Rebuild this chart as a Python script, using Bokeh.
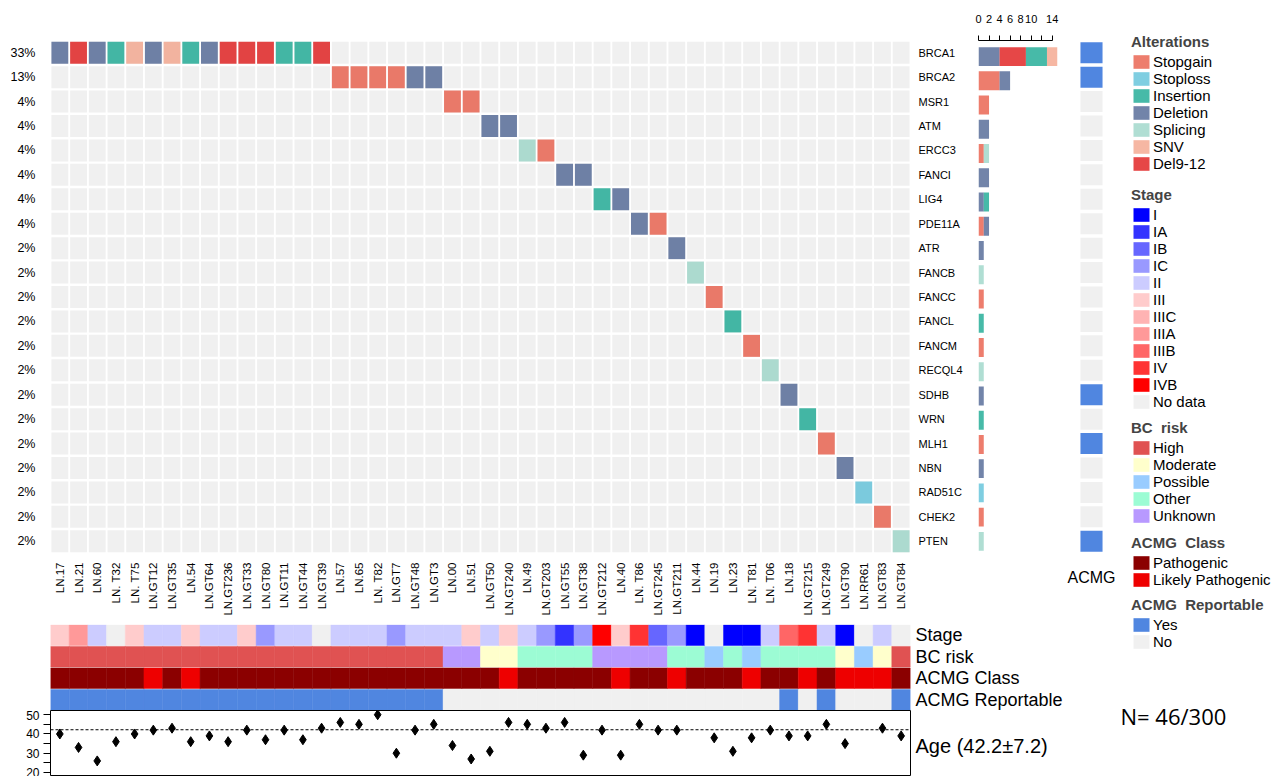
import math
from bokeh.plotting import figure
from bokeh.layouts import row, column
from bokeh.models import (FixedTicker, LinearAxis, Range1d, Legend, LegendItem,
                          Span, Label)
from bokeh.embed import file_html
from bokeh.resources import INLINE

FONT = "Liberation Sans"

# ---------------- data ----------------
samples = ["LN.17", "LN.21", "LN.60", "LN. T32", "LN. T75", "LN.GT12", "LN.GT35", "LN.54",
           "LN.GT64", "LN.GT236", "LN.GT33", "LN.GT80", "LN.GT11", "LN.GT44", "LN.GT39",
           "LN.57", "LN.65", "LN. T82", "LN.GT7", "LN.GT48", "LN.GT3", "LN.00", "LN.51",
           "LN.GT50", "LN.GT240", "LN.49", "LN.GT203", "LN.GT55", "LN.GT38", "LN.GT212",
           "LN.40", "LN. T86", "LN.GT245", "LN.GT211", "LN.44", "LN.19", "LN.23", "LN. T81",
           "LN. T06", "LN.18", "LN.GT215", "LN.GT249", "LN.GT90", "LN.RR61", "LN.GT83", "LN.GT84"]

genes = ["BRCA1", "BRCA2", "MSR1", "ATM", "ERCC3", "FANCI", "LIG4", "PDE11A", "ATR", "FANCB",
         "FANCC", "FANCL", "FANCM", "RECQL4", "SDHB", "WRN", "MLH1", "NBN", "RAD51C", "CHEK2", "PTEN"]

sample_gene = ["BRCA1", "BRCA1", "BRCA1", "BRCA1", "BRCA1", "BRCA1", "BRCA1", "BRCA1", "BRCA1",
               "BRCA1", "BRCA1", "BRCA1", "BRCA1", "BRCA1", "BRCA1",
               "BRCA2", "BRCA2", "BRCA2", "BRCA2", "BRCA2", "BRCA2",
               "MSR1", "MSR1", "ATM", "ATM", "ERCC3", "ERCC3", "FANCI", "FANCI", "LIG4", "LIG4",
               "PDE11A", "PDE11A", "ATR", "FANCB", "FANCC", "FANCL", "FANCM", "RECQL4", "SDHB",
               "WRN", "MLH1", "NBN", "RAD51C", "CHEK2", "PTEN"]

sample_alt = ["Deletion", "Del9-12", "Deletion", "Insertion", "SNV", "Deletion", "SNV", "Insertion",
              "Deletion", "Del9-12", "Del9-12", "Del9-12", "Insertion", "Insertion", "Del9-12",
              "Stopgain", "Stopgain", "Stopgain", "Stopgain", "Deletion", "Deletion",
              "Stopgain", "Stopgain", "Deletion", "Deletion", "Splicing", "Stopgain", "Deletion",
              "Deletion", "Insertion", "Deletion", "Deletion", "Stopgain", "Deletion", "Splicing",
              "Stopgain", "Insertion", "Stopgain", "Splicing", "Deletion", "Insertion", "Stopgain",
              "Deletion", "Stoploss", "Stopgain", "Splicing"]

stage = ["III", "IIIA", "II", "No data", "III", "II", "II", "III", "II", "II",
         "III", "IC", "II", "II", "No data", "II", "II", "II", "IC", "II",
         "II", "II", "III", "II", "III", "II", "IC", "IA", "IC", "IVB",
         "III", "IV", "IB", "IC", "I", "No data", "I", "I", "II", "IIIB",
         "IV", "II", "I", "No data", "II", "No data"]

bc_risk = ["High", "High", "High", "High", "High", "High", "High", "High", "High", "High",
           "High", "High", "High", "High", "High", "High", "High", "High", "High", "High",
           "High", "Unknown", "Unknown", "Moderate", "Moderate", "Other", "Other", "Other", "Other",
           "Unknown", "Unknown", "Unknown", "Unknown", "Other", "Other", "Possible", "Other",
           "Possible", "Other", "Other", "Other", "Other", "Moderate", "Possible", "Moderate", "High"]

acmg_class = ["Pathogenic", "Pathogenic", "Pathogenic", "Pathogenic", "Pathogenic",
              "Likely Pathogenic", "Pathogenic", "Likely Pathogenic", "Pathogenic", "Pathogenic",
              "Pathogenic", "Pathogenic", "Pathogenic", "Pathogenic", "Pathogenic",
              "Pathogenic", "Pathogenic", "Pathogenic", "Pathogenic", "Pathogenic",
              "Pathogenic", "Pathogenic", "Pathogenic", "Pathogenic", "Likely Pathogenic",
              "Pathogenic", "Pathogenic", "Pathogenic", "Pathogenic", "Pathogenic",
              "Likely Pathogenic", "Pathogenic", "Pathogenic", "Likely Pathogenic", "Pathogenic",
              "Pathogenic", "Pathogenic", "Likely Pathogenic", "Pathogenic", "Pathogenic",
              "Likely Pathogenic", "Pathogenic", "Likely Pathogenic", "Likely Pathogenic",
              "Likely Pathogenic", "Pathogenic"]

acmg_reportable = ["Yes", "Yes", "Yes", "Yes", "Yes", "Yes", "Yes", "Yes", "Yes", "Yes",
                   "Yes", "Yes", "Yes", "Yes", "Yes", "Yes", "Yes", "Yes", "Yes", "Yes",
                   "Yes", "No", "No", "No", "No", "No", "No", "No", "No", "No",
                   "No", "No", "No", "No", "No", "No", "No", "No", "No", "Yes",
                   "No", "Yes", "No", "No", "No", "Yes"]

age = [40, 33, 26, 36, 40, 42, 43, 36, 39, 36, 42, 37, 42, 37, 43, 46, 45, 50, 30, 42,
       45, 34, 27, 31, 46, 45, 43, 46, 29, 42, 29, 45, 42, 42, None, 38, 31, 38, 42, 39,
       39, 45, 35, None, 43, 39]
age_mean, age_sd = 42.2, 7.2
n_altered, n_total = 46, 300

alt_types = ["Stopgain", "Stoploss", "Insertion", "Deletion", "Splicing", "SNV", "Del9-12"]
alt_colors = ["#E64B35", "#4DBBD5", "#00A087", "#3C5488", "#91D1C2", "#F39B7F", "#DC0000"]
stage_levels = ["I", "IA", "IB", "IC", "II", "III", "IIIC", "IIIA", "IIIB", "IV", "IVB", "No data"]
stage_colors = ["#0000FF", "#3333FF", "#6666FF", "#9999FF", "#CCCCFF", "#FFCCCC", "#FFB3B3",
                "#FF9999", "#FF6666", "#FF3333", "#FF0000", "#F0F0F0"]
bc_levels = ["High", "Moderate", "Possible", "Other", "Unknown"]
bc_colors = ["#E05252", "#FFFFCC", "#99CCFF", "#9CFCD4", "#B899FF"]
class_levels = ["Pathogenic", "Likely Pathogenic"]
class_colors = ["#8B0000", "#EE0000"]
rep_levels = ["Yes", "No"]
rep_colors = ["#5086E0", "#F0F0F0"]
stack_order = ["Stopgain", "Deletion", "Del9-12", "Insertion", "SNV", "Splicing", "Stoploss"]

ALT_ALPHA = 0.72
alt_col = dict(zip(alt_types, alt_colors))
stage_col = dict(zip(stage_levels, stage_colors))
bc_col = dict(zip(bc_levels, bc_colors))
class_col = dict(zip(class_levels, class_colors))
rep_col = dict(zip(rep_levels, rep_colors))

NS, NG = len(samples), len(genes)
col_idx = list(range(NS))
gene_row = {g: NG - 1 - i for i, g in enumerate(genes)}


def base_fig(w, h, xr, yr, l, r, t, b):
    f = figure(width=w, height=h, x_range=xr, y_range=yr, x_axis_type=None, y_axis_type=None,
               toolbar_location=None, output_backend="svg",
               min_border_left=l, min_border_right=r, min_border_top=t, min_border_bottom=b)
    f.outline_line_color = None
    f.background_fill_color = "white"
    f.border_fill_color = "white"
    return f


def style_axis(ax, size="12px", standoff=5):
    ax.axis_line_color = None
    ax.major_tick_line_color = None
    ax.minor_tick_line_color = None
    ax.major_tick_out = 0
    ax.major_tick_in = 0
    ax.minor_tick_out = 0
    ax.minor_tick_in = 0
    ax.major_label_text_font = FONT
    ax.major_label_text_font_size = size
    ax.major_label_text_color = "black"
    ax.major_label_standoff = standoff


# ---------------- oncoprint matrix ----------------
m = base_fig(975, 620, Range1d(-0.5, NS - 0.5), Range1d(-0.5, NG - 0.5), 50, 65, 40, 67)
m.rect(x=[j for _ in genes for j in col_idx], y=[gene_row[g] for g in genes for _ in col_idx],
       width=0.9, height=0.9, fill_color="#F0F0F0", line_color=None)
m.rect(x=col_idx, y=[gene_row[g] for g in sample_gene], width=0.9, height=0.9,
       fill_color=[alt_col[a] for a in sample_alt], fill_alpha=ALT_ALPHA, line_color=None)

counts = {g: sample_gene.count(g) for g in genes}
ax_l = LinearAxis(ticker=FixedTicker(ticks=list(range(NG))),
                  major_label_overrides={gene_row[g]: f"{round(100 * counts[g] / NS)}%" for g in genes})
style_axis(ax_l, "12.5px", 15)
m.add_layout(ax_l, "left")
ax_r = LinearAxis(ticker=FixedTicker(ticks=list(range(NG))),
                  major_label_overrides={gene_row[g]: g for g in genes})
style_axis(ax_r, "11px", 8)
m.add_layout(ax_r, "right")
ax_b = LinearAxis(ticker=FixedTicker(ticks=col_idx),
                  major_label_overrides={j: s for j, s in enumerate(samples)},
                  major_label_orientation=math.pi / 2)
style_axis(ax_b, "11.5px", 9)
m.add_layout(ax_b, "below")

# ---------------- side bar chart ----------------
seg_y, seg_l, seg_r, seg_c = [], [], [], []
for g in genes:
    cum = 0
    for t in stack_order:
        c = sum(1 for sg, sa in zip(sample_gene, sample_alt) if sg == g and sa == t)
        if c:
            seg_y.append(gene_row[g]); seg_l.append(cum); seg_r.append(cum + c)
            seg_c.append(alt_col[t]); cum += c
bar = base_fig(90, 620, Range1d(0, 15), Range1d(-0.5, NG - 0.5 + 4 / 24.43), 3, 8, 36, 67)
bar.hbar(y=seg_y, left=seg_l, right=seg_r, height=0.78, fill_color=seg_c,
         fill_alpha=ALT_ALPHA, line_color=None)
ax_t = LinearAxis(ticker=FixedTicker(ticks=[0, 2, 4, 6, 8, 10, 12, 14]), bounds=(0, 14),
                  major_label_overrides={12: ""})
style_axis(ax_t, "11px", 13)
ax_t.axis_line_color = "black"
ax_t.major_tick_line_color = "black"
ax_t.major_tick_out = 5
bar.add_layout(ax_t, "above")

# ---------------- ACMG gene column ----------------
gene_rep = {g: ("Yes" if any(r == "Yes" for sg, r in zip(sample_gene, acmg_reportable) if sg == g)
                else "No") for g in genes}
ac = base_fig(50, 620, Range1d(-0.5, 0.5), Range1d(-0.5, NG - 0.5), 14, 12, 40, 67)
ac.rect(x=[0] * NG, y=[gene_row[g] for g in genes], width=0.92, height=0.86,
        fill_color=[rep_col[gene_rep[g]] for g in genes], line_color=None)
ax_a = LinearAxis(ticker=FixedTicker(ticks=[0]), major_label_overrides={0: "ACMG"})
style_axis(ax_a, "16px", 15)
ac.add_layout(ax_a, "below")

# ---------------- annotation tracks ----------------
tracks = [("Stage", stage, stage_col), ("BC risk", bc_risk, bc_col),
          ("ACMG Class", acmg_class, class_col), ("ACMG Reportable", acmg_reportable, rep_col)]
NT = len(tracks)
an = base_fig(1115, 90, Range1d(-0.5, NS - 0.5), Range1d(-0.5, NT - 0.5), 50, 205, 4, 0)
for k, (name, vals, cmap) in enumerate(tracks):
    cols = [cmap[v] for v in vals]
    an.rect(x=col_idx, y=[NT - 1 - k] * NS, width=1.0, height=0.96,
            fill_color=cols, line_color=cols, line_width=0.5)
ax_an = LinearAxis(ticker=FixedTicker(ticks=list(range(NT))),
                   major_label_overrides={NT - 1 - k: tr[0] for k, tr in enumerate(tracks)})
style_axis(ax_an, "18px", 5)
an.add_layout(ax_an, "right")

# ---------------- age panel ----------------
ag = base_fig(1115, 66, Range1d(-0.5, NS - 0.5), Range1d(17.9, 52.2), 50, 205, 0, 0)
ag.outline_line_color = "black"
ag.outline_line_width = 1
ax_y = LinearAxis(ticker=FixedTicker(ticks=[20, 30, 40, 50], minor_ticks=[25, 35, 45]))
style_axis(ax_y, "12px", 4)
ax_y.major_tick_line_color = "black"
ax_y.minor_tick_line_color = "black"
ax_y.major_tick_out = 7
ax_y.minor_tick_out = 7
ag.add_layout(ax_y, "left")
ag.add_layout(Span(location=age_mean, dimension="width", line_color="black",
                   line_dash="3 2", line_width=1))
ax_age = LinearAxis(ticker=FixedTicker(ticks=[34]),
                    major_label_overrides={34: f"Age ({age_mean}\u00b1{age_sd})"})
style_axis(ax_age, "20px", 5)
ag.add_layout(ax_age, "right")
ax_pts = [j for j, a in enumerate(age) if a is not None]
ay_pts = [a for a in age if a is not None]
ag.scatter(ax_pts, ay_pts, marker="diamond", size=10, color="black")

# ---------------- legends ----------------
LEG_W = 159


def legend_fig(title, levels, colors, height, alpha=1.0, gh=17):
    # the legend is anchored to the bottom of its own small figure
    f = base_fig(LEG_W, height, Range1d(0, 1), Range1d(0, 1), 0, 0, 0, 0)
    items = []
    for lev, c in zip(levels, colors):
        r = f.rect(x=[0.5], y=[0.5], width=0, height=0, fill_color=c, fill_alpha=alpha,
                   line_color=None)
        items.append(LegendItem(label=lev, renderers=[r]))
    leg = Legend(items=items, title=title, location=(16, 0), margin=0, padding=0, spacing=0,
                 glyph_width=20, glyph_height=gh, label_height=gh, label_standoff=2,
                 border_line_color=None, background_fill_alpha=0,
                 title_text_font=FONT, title_text_font_size="15px", title_text_font_style="bold",
                 title_standoff=3, label_text_font=FONT, label_text_font_size="15px",
                 label_text_color="black")
    f.add_layout(leg)
    return f


leg_alt = legend_fig("Alterations", alt_types, alt_colors, 172, ALT_ALPHA, 17)
leg_stage = legend_fig("Stage", stage_levels, stage_colors, 238, 1.0, 17)
leg_bc = legend_fig("BC  risk", bc_levels, bc_colors, 114, 1.0, 17)
leg_class = legend_fig("ACMG  Class", class_levels, class_colors, 64, 1.0, 17)
leg_rep = legend_fig("ACMG  Reportable", rep_levels, rep_colors, 62, 1.0, 17)

nf = base_fig(LEG_W, 126, Range1d(0, 1), Range1d(0, 1), 0, 0, 0, 0)
nf.add_layout(Label(x=5, y=61, x_units="screen", y_units="screen",
                    text=f"N= {n_altered}/{n_total}", text_font="Open Sans",
                    text_font_size="22px", text_baseline="middle", text_color="black"))

left_col = column(row(m, bar, ac), an, ag)
right_col = column(leg_alt, leg_stage, leg_bc, leg_class, leg_rep, nf)
layout = row(left_col, right_col)

open("out.html", "w").write(file_html(layout, INLINE, title="Oncoprint"))
